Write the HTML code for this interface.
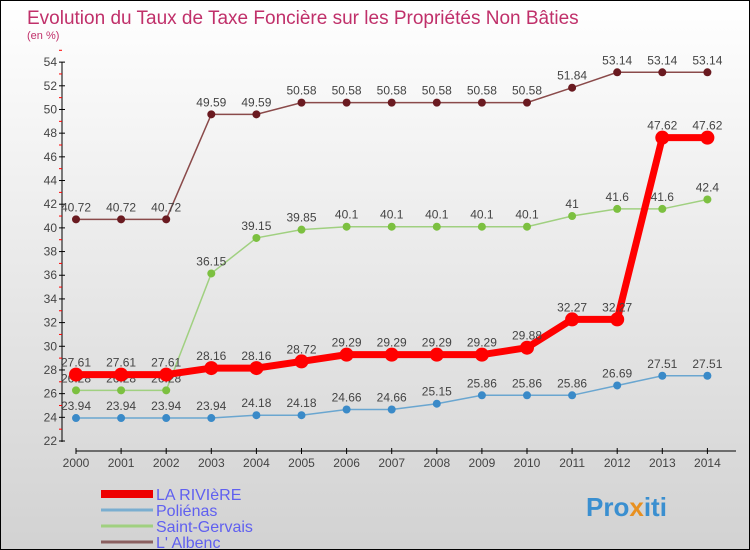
<!DOCTYPE html>
<html><head><meta charset="utf-8"><style>
body{margin:0}
#c{position:relative;width:748px;height:548px;border:1px solid #000;background:linear-gradient(#ffffff,#d2d2d2);font-family:"Liberation Sans",sans-serif;overflow:hidden}
svg text{font-family:"Liberation Sans",sans-serif}
</style></head><body>
<div id="c">
<svg id="s" width="748" height="548">
<text x="26" y="23" font-size="19" fill="#c0306a">Evolution du Taux de Taxe Foncière sur les Propriétés Non Bâties</text>
<text x="26" y="38" font-size="11" fill="#c0306a">(en %)</text>
<text x="585" y="515" font-size="26" font-weight="bold" fill="#3a8fd0">Pro<tspan fill="#e89020">x</tspan>iti</text>
</svg></div>
<script>
const years=[2000,2001,2002,2003,2004,2005,2006,2007,2008,2009,2010,2011,2012,2013,2014];
const yTicks=[22,24,26,28,30,32,34,36,38,40,42,44,46,48,50,52,54];
const riviere=[27.61,27.61,27.61,28.16,28.16,28.72,29.29,29.29,29.29,29.29,29.88,32.27,32.27,47.62,47.62];
const polienas=[23.94,23.94,23.94,23.94,24.18,24.18,24.66,24.66,25.15,25.86,25.86,25.86,26.69,27.51,27.51];
const gervais=[26.28,26.28,26.28,36.15,39.15,39.85,40.1,40.1,40.1,40.1,40.1,41,41.6,41.6,42.4];
const albenc=[40.72,40.72,40.72,49.59,49.59,50.58,50.58,50.58,50.58,50.58,50.58,51.84,53.14,53.14,53.14];
const seriesNames=["LA RIVIèRE","Poliénas","Saint-Gervais","L' Albenc"];
const s=document.getElementById('s');const NS='http://www.w3.org/2000/svg';
const X=i=>75+i*45.1, Y=v=>440-(v-22)*11.84;
function mk(t,a,p){const e=document.createElementNS(NS,t);for(const k in a)e.setAttribute(k,a[k]);(p||s).appendChild(e);return e;}
let ax=mk('line',{x1:61,y1:Y(54),x2:61,y2:441,stroke:'#000'});


let bx=mk('line',{x1:75,y1:450,x2:735,y2:450,stroke:'#000'});


yTicks.forEach(v=>{mk('line',{x1:58,x2:64,y1:Y(v),y2:Y(v),stroke:'#000'});mk('line',{x1:58,x2:61,y1:Y(v+1),y2:Y(v+1),stroke:'red'});
let t=mk('text',{x:56,y:Y(v)+4,'font-size':12,fill:'#444','text-anchor':'end'});t.textContent=v;

});
years.forEach((y,i)=>{mk('line',{x1:X(i),x2:X(i),y1:447,y2:453,stroke:'#000'});
let t=mk('text',{x:X(i),y:466,'font-size':12,fill:'#444','text-anchor':'middle'});t.textContent=y;

});
function series(d,col,dot,w,r,name){const g=mk('g',{});


mk('polyline',{points:d.map((v,i)=>X(i)+','+Y(v)).join(' '),fill:'none',stroke:col,'stroke-width':w},g);
d.forEach((v,i)=>{let c=mk('circle',{cx:X(i),cy:Y(v),r:r,fill:dot},g);


let t=mk('text',{x:X(i),y:Y(v)-8,'font-size':12,fill:'#444','text-anchor':'middle'},g);t.textContent=v;});}
series(polienas,'#6aa6d0','#3a8ac8',1.5,4,'series-polienas');
series(gervais,'#a0d080','#7cc040',1.5,4,'series-saint-gervais');
series(albenc,'#8a4a4a','#6a1a20',1.5,4,'series-albenc');
series(riviere,'#ff0000','#ff0000',7,7,'series-la-riviere');
const lc=['#ee0000','#7aaed0','#a0d080','#8a6060'],lw=[8,3,3,3];
seriesNames.forEach((n,i)=>{const g=mk('g',{});


const y=493+i*16;mk('line',{x1:100,x2:152,y1:y,y2:y,stroke:lc[i],'stroke-width':lw[i]},g);
let t=mk('text',{x:155,y:y+6,'font-size':16,fill:'#6060f0'},g);t.textContent=n;});
</script></body></html>
